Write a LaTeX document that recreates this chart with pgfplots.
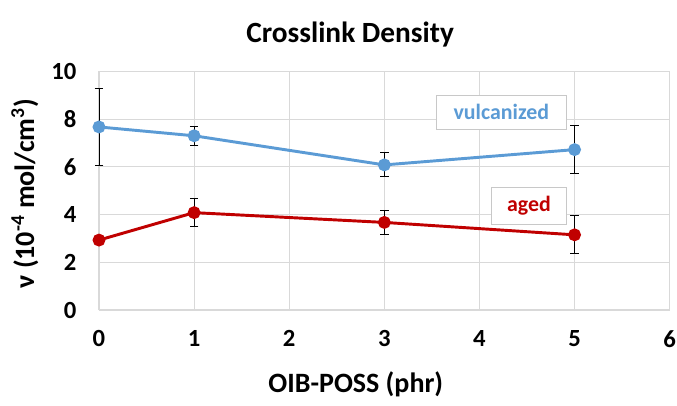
\documentclass[border=0pt]{standalone}
\usepackage{pgfplots}
\pgfplotsset{compat=1.18}
\usepackage{fontspec}
\setmainfont{Carlito}
\definecolor{vblue}{RGB}{91,155,213}
\definecolor{ared}{RGB}{192,0,0}
\definecolor{gridc}{RGB}{217,217,217}
\definecolor{boxc}{RGB}{200,200,200}
\begin{document}
\begin{tikzpicture}
\begin{axis}[
  at={(0,0)}, anchor=south west,
  scale only axis,
  width=428pt, height=179pt,
  xmin=0, xmax=6, ymin=0, ymax=10,
  xtick={0,1,...,6}, ytick={0,2,...,10},
  grid=major,
  major grid style={gridc, line width=0.8pt},
  axis line style={draw=none},
  axis x line*=bottom,
  axis y line*=left,
  x axis line style={draw=gridc, line width=0.8pt},
  tick style={draw=none},
  /pgf/number format/assume math mode=true,
  ticklabel style={font=\fontsize{18.5}{20}\selectfont\bfseries},
  xticklabel style={yshift=-12pt},
  yticklabel style={xshift=-13.5pt},
  title={\fontsize{22}{24}\selectfont\bfseries Crosslink Density},
  title style={at={(axis description cs:0.44,1)}, anchor=center, yshift=21.75pt},
  xlabel={\fontsize{21}{23}\selectfont\bfseries OIB-POSS (phr)},
  xlabel style={at={(axis description cs:0.45,0)}, anchor=center, yshift=-56pt},
  ylabel={\fontsize{21}{23}\selectfont\bfseries ν (10\textsuperscript{-4} mol/cm\textsuperscript{3})},
  ylabel style={at={(axis description cs:-0.13,0.487)}, anchor=center, rotate=0},
  clip=false,
]
\addplot[vblue, line width=2.2pt, mark=*, mark size=3.7pt,
  error bars/.cd, y dir=both, y explicit,
  error bar style={black, line width=0.7pt},
  error mark options={black, rotate=90, mark size=3.2pt, line width=0.7pt}]
  table[x=x, y=y, y error=e] {
x y e
0 7.67 1.60
1 7.30 0.40
3 6.08 0.50
5 6.72 1.00
};
\addplot[ared, line width=2.2pt, mark=*, mark size=3.7pt,
  error bars/.cd, y dir=both, y explicit,
  error bar style={black, line width=0.7pt},
  error mark options={black, rotate=90, mark size=3.2pt, line width=0.7pt}]
  table[x=x, y=y, y error=e] {
x y e
0 2.93 0.0
1 4.08 0.60
3 3.67 0.50
5 3.15 0.80
};
\node[draw=boxc, fill=white, line width=0.8pt, minimum width=97.5pt, minimum height=25.5pt, text=vblue, font=\fontsize{16.4}{18}\selectfont\bfseries] at (axis cs:4.23,8.28) {vulcanized};
\node[draw=boxc, fill=white, line width=0.8pt, minimum width=56pt, minimum height=28pt, text=ared, font=\fontsize{16.4}{18}\selectfont\bfseries] at (axis cs:4.52,4.37) {aged};
\end{axis}
\pgfresetboundingbox
\path (-74.25pt,-71.25pt) rectangle (433.5pt,232.5pt);
\end{tikzpicture}
\end{document}
